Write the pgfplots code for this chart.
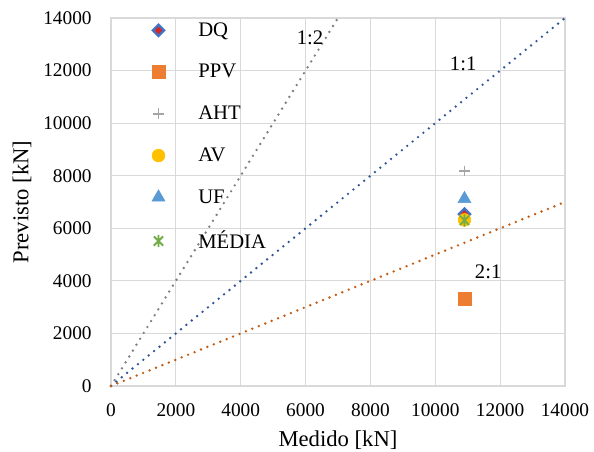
\documentclass[border=0pt]{standalone}
\usepackage{fontspec}
\setmainfont{Liberation Serif}
\usepackage{pgfplots}
\pgfplotsset{compat=1.18}
\definecolor{cDQb}{HTML}{4472C4}
\definecolor{cDQr}{HTML}{D62728}
\definecolor{cPPV}{HTML}{ED7D31}
\definecolor{cAHT}{HTML}{A5A5A5}
\definecolor{cAV}{HTML}{FFC000}
\definecolor{cUF}{HTML}{5B9BD5}
\definecolor{cMED}{HTML}{70AD47}
\definecolor{cL12}{HTML}{7F7F7F}
\definecolor{cL11}{HTML}{2F5597}
\definecolor{cL21}{HTML}{C55A11}
\definecolor{cGrid}{HTML}{D9D9D9}
\pgfdeclareplotmark{xstar}{%
  \pgfpathmoveto{\pgfqpoint{-0.75\pgfplotmarksize}{-0.75\pgfplotmarksize}}%
  \pgfpathlineto{\pgfqpoint{0.75\pgfplotmarksize}{0.75\pgfplotmarksize}}%
  \pgfpathmoveto{\pgfqpoint{-0.75\pgfplotmarksize}{0.75\pgfplotmarksize}}%
  \pgfpathlineto{\pgfqpoint{0.75\pgfplotmarksize}{-0.75\pgfplotmarksize}}%
  \pgfpathmoveto{\pgfqpoint{0pt}{-\pgfplotmarksize}}%
  \pgfpathlineto{\pgfqpoint{0pt}{\pgfplotmarksize}}%
  \pgfusepathqstroke}
\begin{document}
\begin{tikzpicture}
\begin{axis}[
  scale only axis,
  width=340.5pt, height=276pt,
  xmin=0, xmax=14000, ymin=0, ymax=14000,
  xtick={0,2000,...,14000}, ytick={0,2000,...,14000},
  /pgf/number format/.cd, set thousands separator={}, assume math mode=true, /pgfplots/.cd,
  scaled ticks=false,
  grid=major,
  grid style={draw=cGrid, line width=0.9pt},
  axis line style={draw=cGrid, line width=0.9pt},
  major tick length=0pt,
  tick label style={font=\fontsize{14.5}{17}\selectfont},
  yticklabel style={xshift=-11pt},
  xticklabel style={yshift=-10pt},
  xlabel={Medido [kN]}, ylabel={Previsto [kN]},
  label style={font=\fontsize{17}{20}\selectfont},
  ylabel style={at={(axis description cs:-0.196,0.5)}, anchor=center},
  xlabel style={at={(axis description cs:0.5,-0.147)}, anchor=center},
  legend style={draw=none, fill=none, at={(0.081,1.003)}, anchor=north west,
    font=\fontsize{15.5}{18}\selectfont, row sep=15.6pt, column sep=23pt},
  legend cell align=left,
  clip=false,
]
\addplot[forget plot, cL12, line width=2pt, line cap=round, dash pattern=on 0pt off 5.2pt] coordinates {(0,0) (7000,14000)};
\addplot[forget plot, cL11, line width=2pt, line cap=round, dash pattern=on 0pt off 5.2pt] coordinates {(0,0) (14000,14000)};
\addplot[forget plot, cL21, line width=2pt, line cap=round, dash pattern=on 0pt off 5.2pt] coordinates {(0,0) (14000,7000)};
\addplot[only marks, mark=square*, mark size=3.0pt, mark options={rotate=45, draw=cDQb, fill=cDQr, line width=1.7pt}] coordinates {(10900,6540)};
\addlegendentry{DQ}
\addplot[only marks, mark=square*, mark size=4.8pt, mark options={draw=cPPV, fill=cPPV}] coordinates {(10900,3310)};
\addlegendentry{PPV}
\addplot[only marks, mark=+, mark size=4.1pt, mark options={draw=cAHT, line width=1.2pt}] coordinates {(10900,8180)};
\addlegendentry{AHT}
\addplot[only marks, mark=*, mark size=4.8pt, mark options={draw=cAV, fill=cAV}] coordinates {(10900,6320)};
\addlegendentry{AV}
\addplot[only marks, mark=triangle*, mark size=5.6pt, mark options={draw=cUF, fill=cUF}] coordinates {(10900,7120)};
\addlegendentry{UF}
\addplot[only marks, mark=xstar, mark size=4.6pt, mark options={draw=cMED, line width=1.4pt}] coordinates {(10900,6300)};
\addlegendentry{MÉDIA}
\node[font=\fontsize{15.5}{18}\selectfont] at (axis cs:6140,13240) {1:2};
\node[font=\fontsize{15.5}{18}\selectfont] at (axis cs:10860,12250) {1:1};
\node[font=\fontsize{15.5}{18}\selectfont] at (axis cs:11630,4340) {2:1};
\end{axis}
\pgfresetboundingbox
\path (-83.25pt,-49.5pt) rectangle (362.25pt,289.5pt);
\end{tikzpicture}
\end{document}
